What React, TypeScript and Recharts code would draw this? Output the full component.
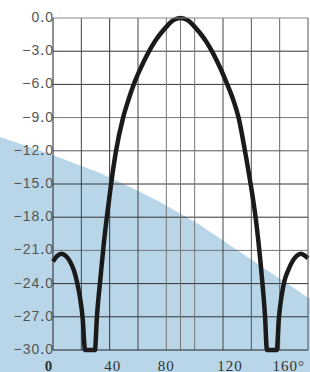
import React from "react";
import { LineChart, Line, XAxis, YAxis, ReferenceLine } from "recharts";

// Angle (degrees) and relative gain (dB)
const angles = [0, 3, 6, 9, 12, 15, 17, 19, 21, 22.6, 29.6, 31, 33.5, 36, 38, 41, 44.5, 49.5, 53, 57, 62, 67, 72, 76, 80, 85, 90, 95, 100, 104, 108, 113, 118, 123, 127.5, 131, 135.5, 139.5, 143, 145, 147.5, 149.7, 151, 158, 159.4, 161.5, 163.5, 166, 169, 172, 175, 178, 180];
const gains = [-22.0, -21.5, -21.3, -21.5, -22.0, -22.9, -23.9, -25.2, -27.2, -30.0, -30.0, -27.0, -23.5, -20.2, -18.0, -15.0, -12.0, -9.0, -7.5, -6.0, -4.5, -3.2, -2.1, -1.4, -0.8, -0.2, 0.0, -0.2, -0.8, -1.4, -2.1, -3.2, -4.5, -6.0, -7.5, -9.0, -12.0, -15.0, -18.0, -20.2, -23.5, -27.0, -30.0, -30.0, -27.2, -25.0, -23.7, -22.8, -22.0, -21.5, -21.3, -21.5, -21.7];

const xTicks = [0, 40, 80, 120, 160];
const yTicks = [-30, -27, -24, -21, -18, -15, -12, -9, -6, -3, 0];
const xGrid = [20, 40, 60, 80, 90, 100, 120, 140, 160];
const xGridColors = ["#444", "#333", "#444", "#777", "#777", "#777", "#444", "#555", "#666"];
const yGrid = [-27, -24, -21, -18, -15, -12, -9, -6, -3];
const yGridColors = ["#333", "#333", "#777", "#333", "#333", "#555", "#777", "#333", "#333"];
const xMinorTicks = Array.from({ length: 46 }, (_, i) => i * 4);
const yMinorTicks = Array.from({ length: 31 }, (_, i) => -i);

const data = angles.map((a, i) => ({ angle: a, gain: gains[i] }));

const xLabelShift: Record<number, number> = { 0: -4, 40: 3, 80: 0, 120: 7, 160: 9 };

const XTick = (props: any) => {
  const { x, y, payload } = props;
  const v = payload.value;
  return (
    <text
      x={x + (xLabelShift[v] ?? 0)}
      y={y + 20.5}
      textAnchor="middle"
      fontFamily="Liberation Serif, serif"
      fontSize={15}
      letterSpacing={1}
      fill="#333"
      fontWeight={v === 0 ? "bold" : "normal"}
    >
      {v === 160 ? "160°" : String(v)}
    </text>
  );
};

const YTick = (props: any) => {
  const { x, y, payload } = props;
  const v = payload.value as number;
  const intPart = v === 0 ? "0" : "\u2212" + String(Math.abs(v));
  return (
    <text
      x={x + 1}
      y={y + 4}
      textAnchor="end"
      fontFamily="Liberation Sans, Arial, sans-serif"
      fontSize={14}
      letterSpacing={1}
      fill="#555"
    >
      <tspan>{intPart}</tspan>
      <tspan fill="#111">.</tspan>
      <tspan>0</tspan>
    </text>
  );
};

export default function App() {
  return (
    <div style={{ position: "absolute", left: 0, top: 0, width: 310, height: 372, background: "#fff" }}>
      <svg width={310} height={372} style={{ position: "absolute", left: 0, top: 0 }}>
        <path
          d="M0 137 L50 154 L100 173 L130 187 L160 202 L200 225 L240 252 L310 299 L310 372 L0 372 Z"
          fill="#b8d6e8"
        />
      </svg>
      <div style={{ position: "absolute", left: 0, top: 0 }}>
        <LineChart width={310} height={372} data={data} margin={{ top: 18, right: 2, bottom: 0, left: 0 }}>
          <XAxis
            dataKey="angle"
            type="number"
            domain={[0, 180]}
            ticks={xTicks}
            interval={0}
            height={22}
            tickLine={false}
            tickSize={0}
            tickMargin={0}
            axisLine={{ stroke: "#222", strokeWidth: 1 }}
            tick={<XTick />}
          />
          <XAxis
            xAxisId="bminor"
            type="number"
            domain={[0, 180]}
            ticks={xMinorTicks}
            interval={0}
            mirror
            tick={false}
            tickSize={2}
            tickLine={{ stroke: "#333" }}
            axisLine={false}
          />
          <XAxis
            xAxisId="tminor"
            orientation="top"
            type="number"
            domain={[0, 180]}
            ticks={xMinorTicks}
            interval={0}
            mirror
            tick={false}
            tickSize={3}
            tickLine={{ stroke: "#444" }}
            axisLine={{ stroke: "#888" }}
          />
          <YAxis
            type="number"
            domain={[-30, 0]}
            ticks={yTicks}
            interval={0}
            width={53}
            tickLine={false}
            tickSize={0}
            tickMargin={0}
            axisLine={{ stroke: "#222", strokeWidth: 1 }}
            tick={<YTick />}
          />
          <YAxis
            yAxisId="lminor"
            type="number"
            domain={[-30, 0]}
            ticks={yMinorTicks}
            interval={0}
            mirror
            tick={false}
            tickSize={3}
            tickLine={{ stroke: "#333" }}
            axisLine={false}
          />
          <YAxis
            yAxisId="rminor"
            orientation="right"
            type="number"
            domain={[-30, 0]}
            ticks={yMinorTicks}
            interval={0}
            mirror
            tick={false}
            tickSize={3}
            tickLine={{ stroke: "#333" }}
            axisLine={{ stroke: "#555" }}
          />
          {yGrid.map((v, i) => (
            <ReferenceLine key={"h" + v} y={v} stroke={yGridColors[i]} strokeWidth={1} />
          ))}
          {xGrid.map((v, i) => (
            <ReferenceLine key={"v" + v} x={v} stroke={xGridColors[i]} strokeWidth={1} />
          ))}
          <Line
            dataKey="gain"
            type="monotone"
            stroke="#1a1a1a"
            strokeWidth={4.5}
            dot={false}
            isAnimationActive={false}
            strokeLinejoin="round"
          />
        </LineChart>
      </div>
    </div>
  );
}
